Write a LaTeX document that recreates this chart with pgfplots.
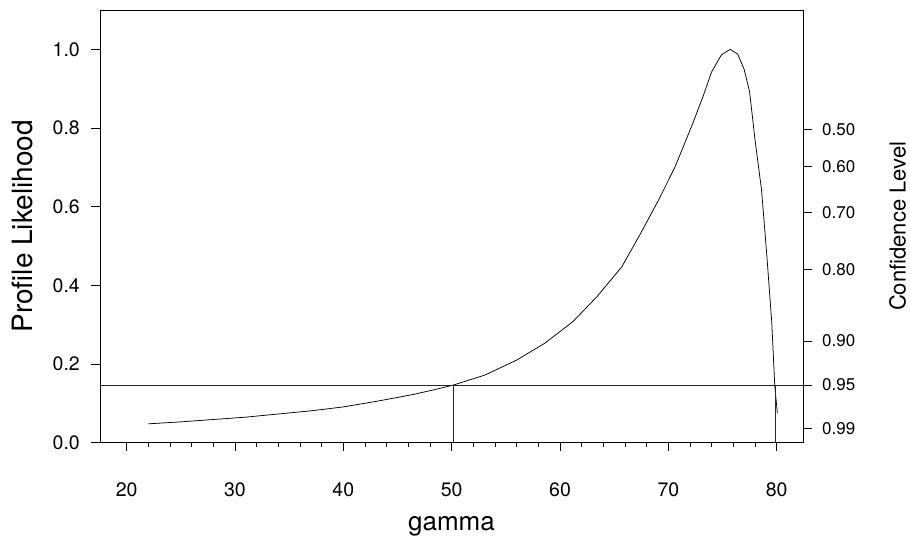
\documentclass[border=0pt]{standalone}
\usepackage{fontspec}
\setmainfont{TeX Gyre Heros}
\usepackage{pgfplots}
\pgfplotsset{compat=1.18}

% profile likelihood of the threshold parameter gamma
\pgfplotstableread{
g      L
22.0   0.048
25.0   0.053
28.0   0.059
31.0   0.065
34.0   0.073
37.0   0.081
40.0   0.091
42.8   0.104
45.0   0.115
46.5   0.123
48.3   0.134
50.15  0.1465
53.07  0.172
56.0   0.210
58.6   0.253
61.2   0.308
63.4   0.371
65.7   0.447
67.4   0.530
69.1   0.617
70.6   0.700
72.2   0.808
73.2   0.880
74.0   0.943
74.9   0.986
75.7   1.000
76.4   0.988
77.0   0.949
77.5   0.892
78.0   0.770
78.6   0.643
79.1   0.473
79.55  0.304
79.82  0.147
80.06  0.075
}\profile

\newcommand{\ticksize}{\fontsize{19.5bp}{22bp}\selectfont}
\newcommand{\rticksize}{\fontsize{17bp}{20bp}\selectfont}

\begin{document}
\begin{tikzpicture}
\path[use as bounding box] (0,0) rectangle (910bp,-536bp);

\pgfplotsset{
  common/.style={
    at={(100bp,-442.7bp)}, anchor=south west,
    scale only axis, width=703bp, height=432.7bp,
    xmin=17.54, xmax=82.43, ymin=0, ymax=1.1,
    tick align=outside,
    major tick length=8.5bp, minor tick length=4.5bp,
    every tick/.style={black, line width=0.75bp},
    axis line style={line width=0.75bp},
    /pgf/number format/assume math mode=true,
  }
}

\begin{axis}[common,
  xtick={20,30,...,80},
  minor xtick={22,24,...,78},
  xtick pos=bottom,
  ytick={0,0.2,...,1.0},
  ytick pos=left,
  xticklabel style={font=\ticksize, inner sep=0pt, anchor=north, yshift=-31bp},
  yticklabel style={font=\ticksize, inner sep=0pt, anchor=east, xshift=-11.5bp,
    /pgf/number format/.cd, fixed, fixed zerofill, precision=1},
  xlabel={gamma},
  xlabel style={font=\fontsize{26bp}{30bp}\selectfont, inner sep=0pt,
    at={([yshift=-87.3bp]axis description cs:0.5,0)}, anchor=base},
  ylabel={Profile Likelihood},
  ylabel style={font=\fontsize{28bp}{32bp}\selectfont, inner sep=0pt, rotate=0,
    at={([xshift=-67bp]axis description cs:0,0.5)}, anchor=base},
]
\addplot[black, line width=0.75bp] table[x=g, y=L] {\profile};
% 95% cut-off and the interval it gives
\addplot[black!85, line width=0.75bp] coordinates {(17.54,0.1465) (82.43,0.1465)};
\addplot[black!85, line width=0.75bp] coordinates {(50.15,0) (50.15,0.1465)};
\addplot[black!85, line width=0.75bp] coordinates {(79.85,0) (79.85,0.1465)};
\end{axis}

% confidence level scale on the right
\begin{axis}[common,
  axis x line=none,
  axis y line*=right,
  ytick={0.79655,0.70178,0.58445,0.43991,0.25852,0.14653,0.03625},
  yticklabels={0.50,0.60,0.70,0.80,0.90,0.95,0.99},
  yticklabel style={font=\rticksize, inner sep=0pt, anchor=west, xshift=10.5bp},
  ylabel={Confidence Level},
  ylabel style={font=\fontsize{22bp}{26bp}\selectfont, inner sep=0pt, rotate=0,
    at={([xshift=102.5bp]axis description cs:1,0.5)}, anchor=base},
]
\end{axis}
\end{tikzpicture}
\end{document}
